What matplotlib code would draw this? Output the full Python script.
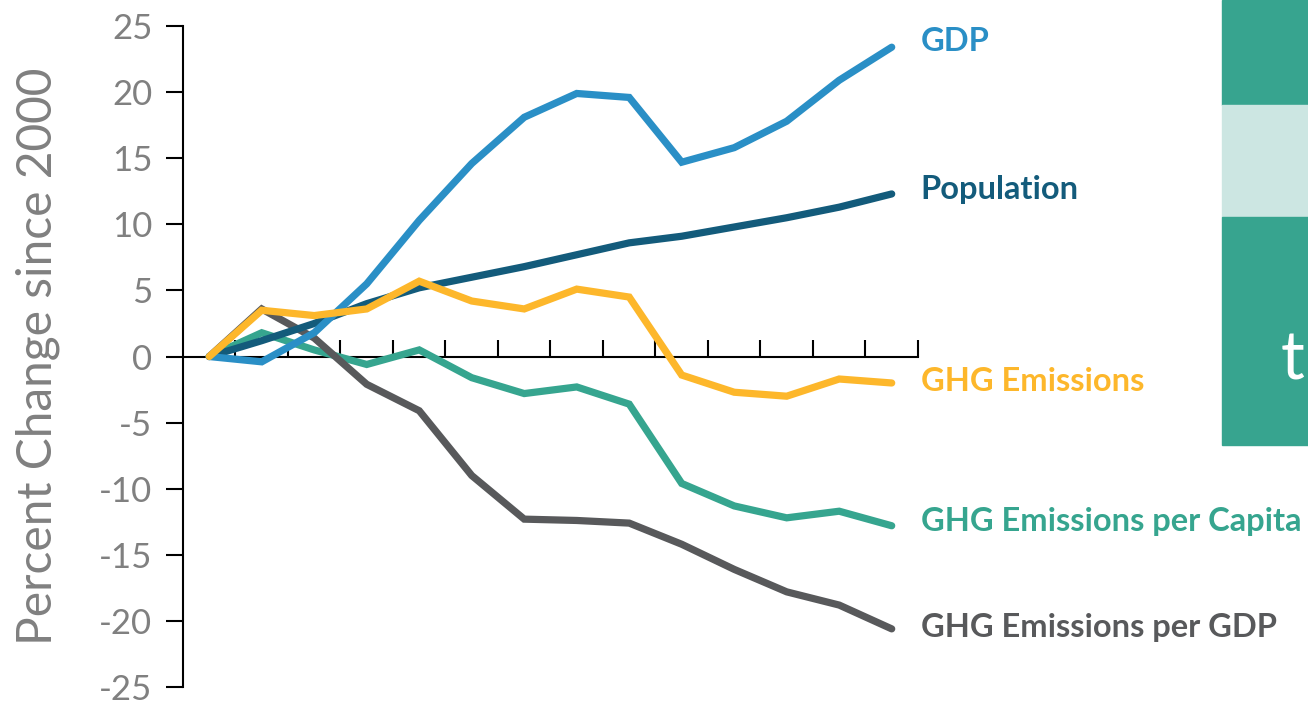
import numpy as np
import matplotlib

matplotlib.use("Agg")
import matplotlib.pyplot as plt
from matplotlib.patches import Rectangle

plt.rcParams["font.family"] = ["Lato", "DejaVu Sans"]

years = list(range(2000, 2014))
gdp = [0, -0.4, 1.8, 5.5, 10.3, 14.6, 18.1, 19.9, 19.6, 14.7, 15.8, 17.8, 20.9, 23.4]
population = [0, 1.2, 2.5, 4.0, 5.2, 6.0, 6.8, 7.7, 8.6, 9.1, 9.8, 10.5, 11.3, 12.3]
ghg = [0, 3.5, 3.1, 3.6, 5.7, 4.2, 3.6, 5.1, 4.5, -1.4, -2.7, -3.0, -1.7, -2.0]
ghg_capita = [0, 1.8, 0.5, -0.6, 0.5, -1.6, -2.8, -2.3, -3.6, -9.6, -11.3, -12.2, -11.7, -12.8]
ghg_gdp = [0, 3.6, 1.4, -2.1, -4.1, -9.0, -12.3, -12.4, -12.6, -14.2, -16.1, -17.8, -18.8, -20.6]

series = [
    ("GHG Emissions per Capita", ghg_capita, "#36a58f", 0.3),
    ("GHG Emissions per GDP", ghg_gdp, "#58595b", 0.1),
    ("Population", population, "#135b7b", 0.3),
    ("GDP", gdp, "#2a8fc6", 0.4),
    ("GHG Emissions", ghg, "#fdb72b", 0.1),
]

fig = plt.figure(figsize=(13.08, 7.04), dpi=100)
ax = fig.add_axes([0.1399, 0.0241, 0.5619, 0.9389])

x = np.arange(len(years))
for name, vals, col, dy in series:
    ax.plot(x, vals, color=col, lw=5.2, solid_capstyle="round",
            solid_joinstyle="miter", zorder=3)
    ax.text(x[-1] + 0.55, vals[-1] + dy, name, color=col, fontsize=23.5,
            fontweight="bold", va="center", ha="left", clip_on=False)

ax.set_xlim(-0.5, 13.5)
ax.set_ylim(-25, 25)
ax.set_yticks(range(-25, 26, 5))
ax.set_yticklabels([str(v) for v in range(-25, 26, 5)])
ax.set_xticks(np.arange(0.5, 14, 1))
ax.set_xticklabels([])

for s in ["top", "right"]:
    ax.spines[s].set_visible(False)
ax.spines["bottom"].set_position(("data", 0))
ax.spines["left"].set_bounds(-25, 25)
for s in ["bottom", "left"]:
    ax.spines[s].set_color("black")
    ax.spines[s].set_linewidth(1.5)
    ax.spines[s].set_zorder(2)

ax.tick_params(axis="x", direction="in", length=12, width=1.5, color="black")
ax.tick_params(axis="y", direction="out", length=12, width=1.5, color="black",
               labelsize=25, labelcolor="#808080", pad=10)
ax.set_ylabel("Percent Change since 2000", fontsize=34.5, color="#808080", labelpad=28)

# slide panel at the right edge
W, H = 1308, 704
def px_rect(x0, y0, x1, y1, c):
    fig.patches.append(Rectangle((x0 / W, 1 - y1 / H), (x1 - x0) / W, (y1 - y0) / H,
                                 transform=fig.transFigure, color=c, zorder=0))

px_rect(1222, 0, 1308, 105, "#37a48f")
px_rect(1222, 105, 1308, 217, "#cce6e2")
px_rect(1222, 217, 1308, 445, "#37a48f")
fig.text(1281 / W, 1 - 360 / H, "t", color="white", fontsize=48,
         va="center", ha="left")

fig.savefig("out.png", dpi=100)
